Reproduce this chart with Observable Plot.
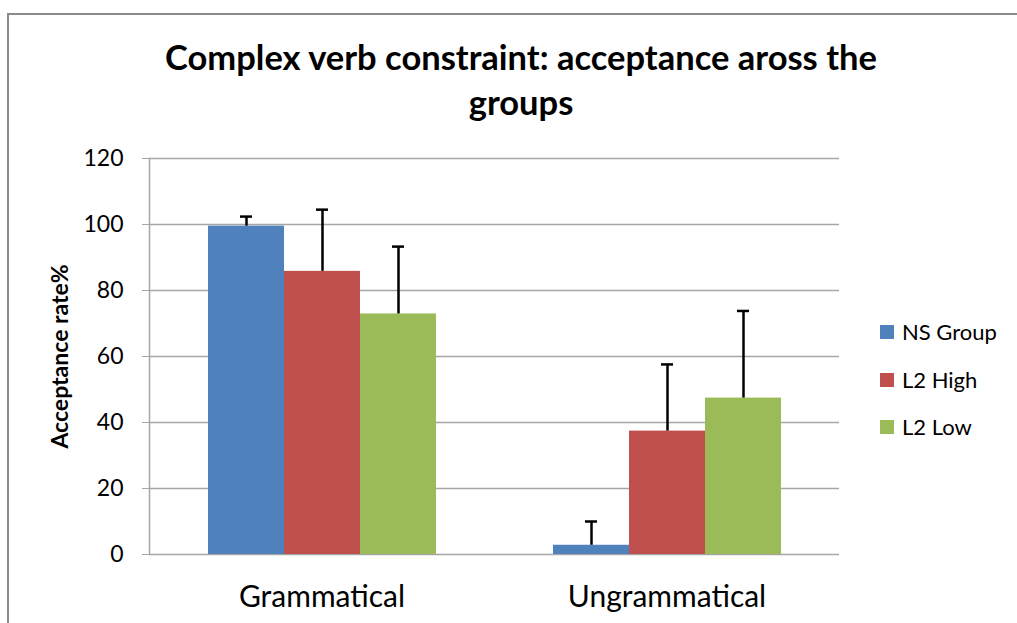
<!DOCTYPE html>
<html>
<head>
<meta charset="utf-8">
<script src="https://cdn.jsdelivr.net/npm/d3@7"></script>
<script src="https://cdn.jsdelivr.net/npm/@observablehq/plot@0.6"></script>
<style>
  html, body { margin: 0; padding: 0; background: #fff; }
  #wrap { position: relative; width: 1017px; height: 623px; overflow: hidden; font-family: Lato, "Open Sans", sans-serif; }
  #border { position: absolute; left: 7px; top: 13px; width: 1100px; height: 700px; border: 2px solid #8a8a8a; }
  #title { position: absolute; left: 0; top: 0; width: 1017px; height: 140px; text-align: center; }
  #title div { position: absolute; left: 0; width: 1042px; font-weight: bold; font-size: 34.5px; color: #000; }
  #chart { position: absolute; left: 0; top: 140px; }
  #legend { position: absolute; left: 880px; top: 0; }
  .li { position: absolute; left: 0; width: 140px; height: 26px; }
  .sw { position: absolute; left: 0; top: 6px; width: 14px; height: 14px; }
  .lt { position: absolute; left: 22px; top: 0; font-size: 22px; line-height: 26px; color: #000; white-space: nowrap; }
  svg g[aria-label="y-axis label"] text { font-weight: bold; font-size: 23px; }
</style>
</head>
<body>
<div id="wrap">
  <div id="border"></div>
  <div id="title">
    <div style="top:36px">Complex verb constraint: acceptance aross the</div>
    <div style="top:81px">groups</div>
  </div>
  <div id="chart"></div>
  <div id="legend"></div>
</div>
<script>
const conditions = ["Grammatical", "Ungrammatical"];
const groups = ["NS Group", "L2 High", "L2 Low"];
const colors = ["#4f81bd", "#c0504d", "#9bbb59"];
const grammaticalValues = [99.5, 85.8, 72.9];
const grammaticalErrors = [102.4, 104.5, 93.3];
const ungrammaticalValues = [2.8, 37.4, 47.4];
const ungrammaticalErrors = [10.0, 57.6, 73.8];
const yTicks = [0, 20, 40, 60, 80, 100, 120];

const rows = [];
groups.forEach((g, i) => {
  rows.push({condition: conditions[0], group: g, value: grammaticalValues[i], err: grammaticalErrors[i]});
  rows.push({condition: conditions[1], group: g, value: ungrammaticalValues[i], err: ungrammaticalErrors[i]});
});

const plot = Plot.plot({
  width: 1017,
  height: 483,
  marginTop: 18,
  marginBottom: 69,
  marginLeft: 148,
  marginRight: 178,
  style: {fontFamily: "Lato, 'Open Sans', sans-serif", fontSize: "23px", color: "#000", background: "transparent"},
  fx: {domain: conditions, padding: 0},
  x: {domain: groups, paddingInner: 0, paddingOuter: 0.758, axis: null},
  y: {domain: [0, 120]},
  color: {domain: groups, range: colors},
  marks: [
    Plot.gridY(yTicks, {stroke: "#a6a6a6", strokeOpacity: 1, strokeWidth: 1.5}),
    Plot.barY(rows, {fx: "condition", x: "group", y: "value", fill: "group"}),
    Plot.ruleX(rows, {fx: "condition", x: "group", y1: "value", y2: "err", stroke: "#000", strokeWidth: 2.5}),
    Plot.tickY(rows, {fx: "condition", x: "group", y: "err", stroke: "#000", strokeWidth: 2.5, insetLeft: 32, insetRight: 32}),
    Plot.axisY({ticks: yTicks, tickSize: 7, tickPadding: 19, stroke: "#a6a6a6", label: "Acceptance rate%", labelAnchor: "center", labelOffset: 98, labelArrow: "none", fontSize: 23}),
    Plot.axisFx({anchor: "bottom", tickSize: 0, tickPadding: 31, fontSize: 30, label: null}),
    Plot.frame({anchor: "left", facetAnchor: "left", stroke: "#a6a6a6", strokeWidth: 1.5})
  ]
});
document.getElementById("chart").appendChild(plot);

const legend = document.getElementById("legend");
const legendCenters = [332, 380, 427];
groups.forEach((g, i) => {
  const item = document.createElement("div");
  item.className = "li";
  item.style.top = (legendCenters[i] - 13) + "px";
  const sw = document.createElement("div");
  sw.className = "sw";
  sw.style.background = colors[i];
  const lt = document.createElement("div");
  lt.className = "lt";
  lt.textContent = g;
  item.appendChild(sw);
  item.appendChild(lt);
  legend.appendChild(item);
});
</script>
</body>
</html>
